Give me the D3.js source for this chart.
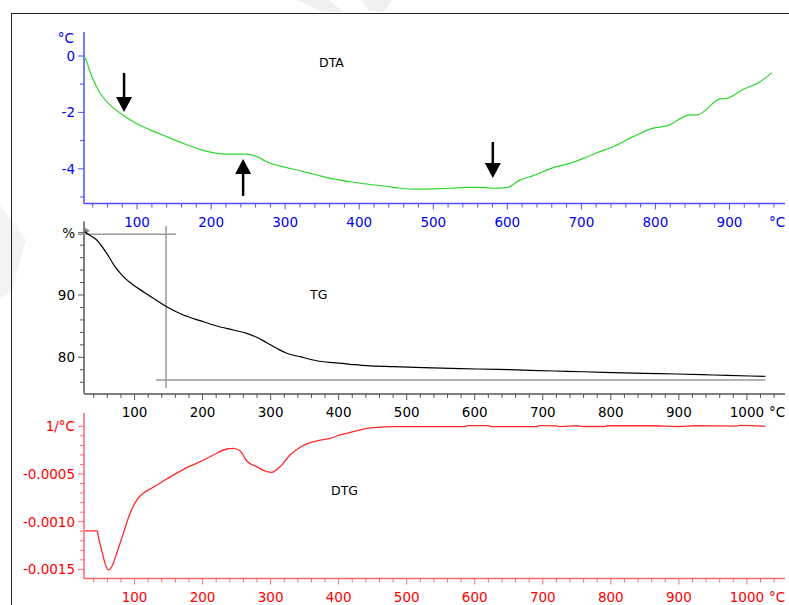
<!DOCTYPE html>
<html>
<head>
<meta charset="utf-8">
<script src="https://cdn.jsdelivr.net/npm/d3@7"></script>
<style>
  body { margin: 0; background: #fff; }
  text { font-family: "DejaVu Sans", Verdana, sans-serif; }
</style>
</head>
<body>
<svg id="chart" width="789" height="605"></svg>
<script>
// DTA curve (temperature °C, delta T °C)
var dtaT = [29.8, 38.8, 50, 63.5, 77, 95, 117.6, 140, 162.5, 185, 207.6, 230, 248, 261.7, 275, 297.6,
  320, 342.7, 365, 387.7, 410, 432.7, 455, 477.7, 500, 522.7, 545, 567.7, 581, 599, 617, 635, 662,
  685, 702.8, 720.9, 743, 770, 797, 815, 847, 856, 887.4, 896.5, 918.9, 941.5, 957.3];
var dtaV = [-0.07, -0.73, -1.31, -1.74, -2.02, -2.33, -2.62, -2.86, -3.10, -3.31, -3.45, -3.48, -3.48, -3.57, -3.75, -3.93,
  -4.07, -4.22, -4.36, -4.46, -4.54, -4.61, -4.69, -4.72, -4.71, -4.69, -4.66, -4.66, -4.69, -4.67, -4.40, -4.24, -3.96,
  -3.80, -3.63, -3.43, -3.22, -2.86, -2.56, -2.48, -2.09, -2.09, -1.52, -1.50, -1.18, -0.91, -0.59];

// TG curve (temperature °C, mass %)
var tgT = [27.2, 32, 44.4, 59.1, 71.3, 83.5, 98.2, 112.9, 127.6, 147.3, 171.7, 196.3, 220.8, 245.2, 265, 279.6,
  294.3, 309, 323.7, 343.3, 367.8, 392.2, 416.8, 441.3, 480.4, 524.5, 578.5, 632.5, 681.4, 735.4, 789.2,
  848, 897, 951, 1004.8, 1027];
var tgV = [100.16, 99.74, 98.83, 96.69, 94.54, 92.94, 91.60, 90.53, 89.47, 88.12, 86.79, 85.88, 85.02, 84.38, 83.85, 83.21,
  82.34, 81.44, 80.64, 80.10, 79.45, 79.13, 78.88, 78.65, 78.49, 78.33, 78.17, 78.07, 77.91, 77.75, 77.59,
  77.43, 77.32, 77.16, 77.00, 76.95];

// DTG curve (temperature °C, 1/°C)
var dtgT = [27.2, 45.3, 46.8, 51.7, 56.6, 61.5, 66.4, 73.8, 83.5, 93.4, 103.2, 112.9, 127.6, 147.3, 171.7, 196.3,
  215.8, 235.5, 245.2, 255, 265, 279.6, 294.3, 301.7, 313.9, 328.6, 343.3, 358, 372.7, 387.4, 402, 421.6,
  441.3, 460.9, 480.4, 585, 590, 620, 625, 690, 695, 720, 725, 750, 760, 790, 795, 860, 900, 925, 985, 990, 1027];
var dtgV = [-0.001097, -0.001097, -0.001157, -0.001297, -0.001436, -0.001506, -0.001472, -0.001331, -0.001122, -0.000912, -0.000773, -0.000702, -0.000639, -0.000552, -0.000451, -0.000371,
  -0.000301, -0.000238, -0.000231, -0.000256, -0.000364, -0.000423, -0.000476, -0.000482, -0.000423, -0.000301, -0.000220, -0.000172, -0.000144, -0.000126, -0.000091, -0.000057,
  -0.000021, -0.000010, -0.000004, -0.000004, 0.000008, 0.000008, -0.000004, -0.000004, 0.000008, 0.000004, -0.000004, 0.000006, -0.000002, -0.000002, 0.000006, 0.000006, -0.000002, 0.000006, 0.000002, 0.000010, 0.000000];

// ticks
var dtaXMajor = [100, 200, 300, 400, 500, 600, 700, 800, 900];
var tgXMajor = [100, 200, 300, 400, 500, 600, 700, 800, 900, 1000];
var dtaYMajor = [0, -2, -4];
var dtaYMinor = [-1, -3, -5];
var tgYMajor = [80, 90, 100];
var tgYMinor = [76, 78, 82, 84, 86, 88, 92, 94, 96, 98];
var dtgYMajor = [0, -0.0005, -0.0010, -0.0015];

// annotations
var arrows = [ {t: 82.4, from: -0.60, to: -1.99}, {t: 243.2, from: -4.96, to: -3.65}, {t: 580.4, from: -3.05, to: -4.33} ];
var tgCross = {t: 146.3, v: 99.74, vLow: 76.36};

var svg = d3.select('#chart');
var FS = '13.5px';

svg.append('rect').attr('width', 789).attr('height', 605).attr('fill', '#fff');

// faint watermark shapes
svg.append('path').attr('d', 'M298,0 L328,0 L344,12 L322,12 Z M362,0 L392,0 L384,12 L368,10 Z')
  .attr('fill', '#efefef');
svg.append('path').attr('d', 'M0,205 L26,240 L12,290 L0,300 Z').attr('fill', '#f3f3f3');

// outer frame
svg.append('rect')
  .attr('x', 11.5).attr('y', 13.5)
  .attr('width', 800).attr('height', 620)
  .attr('fill', 'none').attr('stroke', '#222').attr('stroke-width', 1);

var xDta = d3.scaleLinear().domain([28.3, 975]).range([84, 785]);
var xTg = d3.scaleLinear().domain([25.7, 1056]).range([84, 785]);
var yDta = d3.scaleLinear().domain([0.85, -5.25]).range([56 - 0.85 * 28.2, 56 + 5.25 * 28.2]);
var yTg = d3.scaleLinear().domain([101.8, 74.2]).range([232.7 - 1.8 * 6.23, 232.7 + 25.8 * 6.23]);
var yDtg = d3.scaleLinear().domain([0.00014, -0.0016]).range([426.3 - 0.00014 * 95400, 426.3 + 0.0016 * 95400]);

function minorRange(scale, step) {
  var d = scale.domain(), out = [];
  var lo = Math.ceil(d[0] / step) * step;
  for (var t = lo; t <= d[1]; t += step) {
    if (t % 100 !== 0) out.push(t);
  }
  return out;
}

function drawXAxis(x, y0, major, lineColor, textColor, ticks) {
  var g = svg.append('g');
  g.append('line')
    .attr('x1', x.range()[0]).attr('x2', x.range()[1])
    .attr('y1', y0).attr('y2', y0)
    .attr('stroke', lineColor).attr('stroke-width', 1.5);
  g.selectAll('.mi').data(ticks).enter().append('line')
    .attr('x1', function(d){ return x(d); }).attr('x2', function(d){ return x(d); })
    .attr('y1', y0).attr('y2', y0 + 4)
    .attr('stroke', lineColor);
  g.selectAll('.ma').data(major).enter().append('line')
    .attr('x1', function(d){ return x(d); }).attr('x2', function(d){ return x(d); })
    .attr('y1', y0).attr('y2', y0 + 6)
    .attr('stroke', lineColor);
  g.selectAll('text.lab').data(major).enter().append('text')
    .attr('x', function(d){ return x(d); })
    .attr('y', y0 + 23)
    .attr('text-anchor', 'middle')
    .style('font-size', FS)
    .attr('fill', textColor)
    .text(function(d){ return d; });
  g.append('text')
    .attr('x', 769).attr('y', y0 + 23)
    .style('font-size', FS)
    .attr('fill', textColor)
    .text('°C');
}

function drawYAxis(y, x0, major, minor, lineColor, textColor, fmt) {
  var g = svg.append('g');
  g.append('line')
    .attr('x1', x0).attr('x2', x0)
    .attr('y1', y.range()[0]).attr('y2', y.range()[1])
    .attr('stroke', lineColor).attr('stroke-width', 1.5);
  g.selectAll('.mi').data(minor).enter().append('line')
    .attr('x1', x0 - 4).attr('x2', x0)
    .attr('y1', function(d){ return y(d); }).attr('y2', function(d){ return y(d); })
    .attr('stroke', lineColor);
  g.selectAll('.ma').data(major).enter().append('line')
    .attr('x1', x0 - 6).attr('x2', x0)
    .attr('y1', function(d){ return y(d); }).attr('y2', function(d){ return y(d); })
    .attr('stroke', lineColor);
  g.selectAll('text').data(major).enter().append('text')
    .attr('x', x0 - 9)
    .attr('y', function(d){ return y(d) + 5; })
    .attr('text-anchor', 'end')
    .style('font-size', FS)
    .attr('fill', textColor)
    .text(fmt);
}

// ---------- DTA ----------
drawXAxis(xDta, 203.5, dtaXMajor, '#4f4fff', '#0000f0', minorRange(xDta, 20));
drawYAxis(yDta, 84, dtaYMajor, dtaYMinor, '#4f4fff', '#0000f0', function(d){ return d; });
svg.append('text').attr('x', 74).attr('y', 43).attr('text-anchor', 'end')
  .style('font-size', FS).attr('fill', '#0000f0').text('°C');

var lineDta = d3.line().x(function(d){ return xDta(d[0]); }).y(function(d){ return yDta(d[1]); })
  .curve(d3.curveMonotoneX);
svg.append('path')
  .datum([[28.3, 0]].concat(d3.zip(dtaT, dtaV)))
  .attr('d', lineDta)
  .attr('fill', 'none').attr('stroke', '#2fd62f').attr('stroke-width', 1.2);

svg.append('text').attr('x', 319).attr('y', 67).style('font-size', '12.5px').attr('fill', '#000').text('DTA');

// arrows
arrows.forEach(function(a) {
  var x = xDta(a.t), y1 = yDta(a.from), y2 = yDta(a.to);
  var dir = y2 > y1 ? 1 : -1;
  svg.append('line')
    .attr('x1', x).attr('x2', x)
    .attr('y1', y1).attr('y2', y2 - dir * 12)
    .attr('stroke', '#000').attr('stroke-width', 2.5);
  svg.append('path')
    .attr('d', 'M' + (x - 8) + ',' + (y2 - dir * 15) + ' L' + (x + 8) + ',' + (y2 - dir * 15) + ' L' + x + ',' + y2 + ' Z')
    .attr('fill', '#000');
});

// ---------- TG ----------
drawXAxis(xTg, 394, tgXMajor, '#555', '#000', minorRange(xTg, 20));
drawYAxis(yTg, 84, tgYMajor, tgYMinor, '#555', '#000', function(d){ return d === 100 ? '%' : d; });

// crosshair
svg.append('line').attr('x1', 78).attr('x2', 176)
  .attr('y1', yTg(tgCross.v)).attr('y2', yTg(tgCross.v))
  .attr('stroke', '#999').attr('stroke-width', 1.5);
svg.append('line').attr('x1', xTg(tgCross.t)).attr('x2', xTg(tgCross.t))
  .attr('y1', 226).attr('y2', 388)
  .attr('stroke', '#999').attr('stroke-width', 1.5);
svg.append('line').attr('x1', 156).attr('x2', xTg(1027))
  .attr('y1', yTg(tgCross.vLow)).attr('y2', yTg(tgCross.vLow))
  .attr('stroke', '#999').attr('stroke-width', 1.5);
svg.append('path')
  .attr('d', 'M85,' + (yTg(100.3) - 3) + ' l5,3 l-5,3 Z')
  .attr('fill', '#888');

var lineTg = d3.line().x(function(d){ return xTg(d[0]); }).y(function(d){ return yTg(d[1]); })
  .curve(d3.curveMonotoneX);
svg.append('path')
  .datum(d3.zip(tgT, tgV))
  .attr('d', lineTg)
  .attr('fill', 'none').attr('stroke', '#000').attr('stroke-width', 1.2);

svg.append('text').attr('x', 310).attr('y', 299).style('font-size', '12.5px').attr('fill', '#000').text('TG');

// ---------- DTG ----------
drawXAxis(xTg, 578.5, tgXMajor, '#ff6a6a', '#ff0000', minorRange(xTg, 20));
drawYAxis(yDtg, 84, dtgYMajor, d3.range(-0.0015, 0.0001, 0.0001).filter(function(d){ return Math.abs(d * 10000) % 5 > 0.5 && Math.abs(d * 10000) % 5 < 4.5; }),
  '#ff6a6a', '#ff0000', function(d){ return d === 0 ? '1/°C' : d3.format('.4f')(d).replace('−', '-'); });

var lineDtg = d3.line().x(function(d){ return xTg(d[0]); }).y(function(d){ return yDtg(d[1]); })
  .curve(d3.curveMonotoneX);
svg.append('path')
  .datum(d3.zip(dtgT, dtgV))
  .attr('d', lineDtg)
  .attr('fill', 'none').attr('stroke', '#ff2a2a').attr('stroke-width', 1.3);

svg.append('text').attr('x', 331).attr('y', 495).style('font-size', '12.5px').attr('fill', '#000').text('DTG');
</script>
</body>
</html>
